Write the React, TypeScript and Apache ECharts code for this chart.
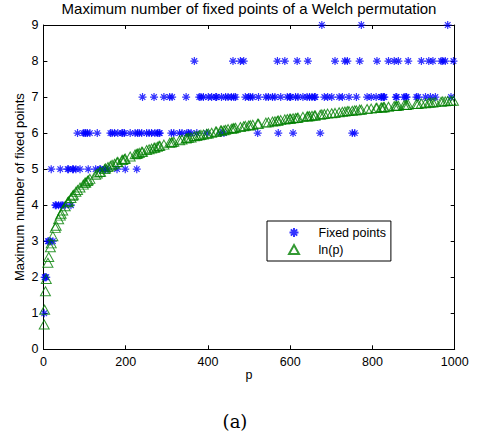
import React, { useEffect, useRef } from "react";
import * as echarts from "echarts";

const primes = [
  2, 3, 5, 7, 11, 13, 17, 19, 23, 29, 31, 37, 41, 43, 47, 53, 59, 61, 67, 71,
  73, 79, 83, 89, 97, 101, 103, 107, 109, 113, 127, 131, 137, 139, 149, 151,
  157, 163, 167, 173, 179, 181, 191, 193, 197, 199, 211, 223, 227, 229, 233,
  239, 241, 251, 257, 263, 269, 271, 277, 281, 283, 293, 307, 311, 313, 317,
  331, 337, 347, 349, 353, 359, 367, 373, 379, 383, 389, 397, 401, 409, 419,
  421, 431, 433, 439, 443, 449, 457, 461, 463, 467, 479, 487, 491, 499, 503,
  509, 521, 523, 541, 547, 557, 563, 569, 571, 577, 587, 593, 599, 601, 607,
  613, 617, 619, 631, 641, 643, 647, 653, 659, 661, 673, 677, 683, 691, 701,
  709, 719, 727, 733, 739, 743, 751, 757, 761, 769, 773, 787, 797, 809, 811,
  821, 823, 827, 829, 839, 853, 857, 859, 863, 877, 881, 883, 887, 907, 911,
  919, 929, 937, 941, 947, 953, 967, 971, 977, 983, 991, 997,
];

const fixedPoints = [
  1, 2, 2, 2, 3, 3, 3, 5, 3, 4, 4, 4, 5, 4, 4, 4, 5, 5, 4, 5,
  5, 5, 6, 5, 6, 6, 6, 6, 5, 6, 5, 6, 5, 5, 5, 5,
  5, 6, 6, 6, 5, 6, 6, 6, 6, 5, 6, 6, 5, 6, 6,
  6, 7, 6, 6, 6, 7, 6, 6, 6, 6, 7, 7, 6, 7, 6,
  6, 6, 7, 6, 6, 6, 8, 6, 7, 7, 7, 6, 7, 7, 7,
  7, 6, 7, 6, 7, 7, 7, 8, 7, 7, 8, 8, 7, 7, 7,
  7, 6, 7, 7, 7, 7, 7, 8, 6, 7, 8, 7, 7, 7, 6,
  7, 8, 7, 7, 7, 8, 7, 7, 7, 7, 6, 9, 7, 7, 7,
  8, 7, 7, 8, 8, 7, 6, 6, 7, 8, 9, 7, 7, 7, 8,
  7, 7, 7, 7, 8, 8, 7, 7, 8, 7, 7, 7, 8, 7, 7,
  8, 7, 8, 7, 8, 7, 8, 8, 8, 9, 7, 8,
];

const lnP = [
  0.69, 1.10, 1.61, 1.95, 2.40, 2.56, 2.83, 2.94, 3.14, 3.37, 3.43, 3.61, 3.71, 3.76, 3.85, 3.97, 4.08, 4.11, 4.20, 4.26,
  4.29, 4.37, 4.42, 4.49, 4.57, 4.62, 4.63, 4.67, 4.69, 4.73, 4.84, 4.88, 4.92, 4.93, 5.00, 5.02,
  5.06, 5.09, 5.12, 5.15, 5.19, 5.20, 5.25, 5.26, 5.28, 5.29, 5.35, 5.41, 5.42, 5.43, 5.45,
  5.48, 5.48, 5.53, 5.55, 5.57, 5.59, 5.60, 5.62, 5.64, 5.65, 5.68, 5.73, 5.74, 5.75, 5.76,
  5.80, 5.82, 5.85, 5.86, 5.87, 5.88, 5.91, 5.92, 5.94, 5.95, 5.96, 5.98, 5.99, 6.01, 6.04,
  6.04, 6.07, 6.07, 6.08, 6.09, 6.11, 6.12, 6.13, 6.14, 6.15, 6.17, 6.19, 6.20, 6.21, 6.22,
  6.23, 6.26, 6.26, 6.29, 6.30, 6.32, 6.33, 6.34, 6.35, 6.36, 6.38, 6.39, 6.40, 6.40, 6.41,
  6.42, 6.42, 6.43, 6.45, 6.46, 6.47, 6.47, 6.48, 6.49, 6.49, 6.51, 6.52, 6.53, 6.54, 6.55,
  6.56, 6.58, 6.59, 6.60, 6.61, 6.61, 6.62, 6.63, 6.63, 6.65, 6.65, 6.67, 6.68, 6.70, 6.70,
  6.71, 6.71, 6.72, 6.72, 6.73, 6.75, 6.75, 6.76, 6.76, 6.78, 6.78, 6.78, 6.79, 6.81, 6.81,
  6.82, 6.83, 6.84, 6.85, 6.85, 6.86, 6.87, 6.88, 6.88, 6.89, 6.90, 6.90,
];

const xTicks = [0, 200, 400, 600, 800, 1000];
const yTicks = [0, 1, 2, 3, 4, 5, 6, 7, 8, 9];

const titleText = "Maximum number of fixed points of a Welch permutation";
const xName = "p";
const yName = "Maximum number of fixed points";
const seriesNames = ["Fixed points", "ln(p)"];
const caption = "(a)";

const FONT = "'Liberation Sans', Arial, Helvetica, sans-serif";
const starSymbol = "path://M0,-5L0,5M-5,0L5,0M-3.5,-3.5L3.5,3.5M-3.5,3.5L3.5,-3.5";
const triSymbol = "path://M0,-4.5L5,4.5L-5,4.5Z";

export default function App() {
  const ref = useRef<HTMLDivElement>(null);
  useEffect(() => {
    if (!ref.current) return;
    const chart = echarts.init(ref.current, null, { renderer: "svg" });
    const fpData = primes.map((p, i) => [p, fixedPoints[i]]);
    const lnData = primes.map((p, i) => [p, lnP[i]]);
    const axisCommon = {
      axisLine: { show: true, onZero: false, lineStyle: { color: "#000", width: 1 } },
      axisTick: { show: true, inside: true, length: 4, lineStyle: { color: "#000", width: 1 } },
      splitLine: { show: false },
    };
    const fmt = (v: number) => String(v);
    chart.setOption({
      animation: false,
      backgroundColor: "#fff",
      title: [
        {
          text: titleText,
          left: 249,
          top: 1,
          padding: 0,
          textAlign: "center",
          textStyle: { fontFamily: FONT, fontSize: 15, fontWeight: "normal", color: "#000" },
        },
        {
          text: caption,
          left: 235,
          top: 412,
          padding: 0,
          textAlign: "center",
          textStyle: { fontFamily: "'DejaVu Serif', serif", fontSize: 18, fontWeight: "normal", color: "#000" },
        },
      ],
      grid: { left: 43.4, right: 24.3, top: 25, bottom: 91.7, outerBoundsMode: "none", containLabel: false },
      legend: {
        orient: "vertical",
        left: 267,
        top: 221,
        padding: [4.5, 5, 4.5, 21],
        itemGap: 3,
        itemWidth: 39,
        itemHeight: 9,
        symbolKeepAspect: true,
        borderColor: "#000",
        borderWidth: 1,
        backgroundColor: "#fff",
        textStyle: { fontFamily: FONT, fontSize: 12.5, color: "#000", lineHeight: 14 },
        data: seriesNames,
      },
      xAxis: [
        {
          type: "value",
          min: xTicks[0],
          max: xTicks[xTicks.length - 1],
          interval: xTicks[1] - xTicks[0],
          position: "bottom",
          name: xName,
          nameLocation: "middle",
          nameGap: 19,
          nameMoveOverlap: false,
          nameTextStyle: { fontFamily: FONT, fontSize: 12.5, color: "#000" },
          axisLabel: { fontFamily: FONT, fontSize: 12.5, color: "#000", margin: 6, showMaxLabel: true, showMinLabel: true, formatter: fmt },
          ...axisCommon,
        },
        {
          type: "value",
          min: xTicks[0],
          max: xTicks[xTicks.length - 1],
          interval: xTicks[1] - xTicks[0],
          position: "top",
          axisLabel: { show: false },
          ...axisCommon,
        },
      ],
      yAxis: [
        {
          type: "value",
          min: yTicks[0],
          max: yTicks[yTicks.length - 1],
          interval: 1,
          position: "left",
          name: yName,
          nameLocation: "middle",
          nameGap: 17,
          nameMoveOverlap: false,
          nameTextStyle: { fontFamily: FONT, fontSize: 13, color: "#000" },
          axisLabel: { fontFamily: FONT, fontSize: 12.5, color: "#000", margin: 5, showMaxLabel: true, showMinLabel: true, formatter: fmt },
          ...axisCommon,
        },
        {
          type: "value",
          min: yTicks[0],
          max: yTicks[yTicks.length - 1],
          interval: 1,
          position: "right",
          axisLabel: { show: false },
          ...axisCommon,
        },
      ],
      series: [
        {
          name: seriesNames[0],
          type: "scatter",
          xAxisIndex: 0,
          yAxisIndex: 0,
          data: fpData,
          symbol: starSymbol,
          symbolSize: 8,
          itemStyle: { color: "rgba(0,0,0,0)", borderColor: "#0000ff", borderWidth: 1.2 },
          emphasis: { disabled: true },
          z: 2,
        },
        {
          name: seriesNames[1],
          type: "scatter",
          xAxisIndex: 0,
          yAxisIndex: 0,
          data: lnData,
          symbol: triSymbol,
          symbolSize: [10, 9],
          itemStyle: { color: "rgba(0,0,0,0)", borderColor: "#008000", borderWidth: 1 },
          emphasis: { disabled: true },
          z: 3,
        },
      ],
    });
    return () => chart.dispose();
  }, []);
  return (
    <div
      ref={ref}
      style={{ position: "fixed", left: 0, top: 0, width: 479, height: 441, background: "#fff" }}
    />
  );
}
